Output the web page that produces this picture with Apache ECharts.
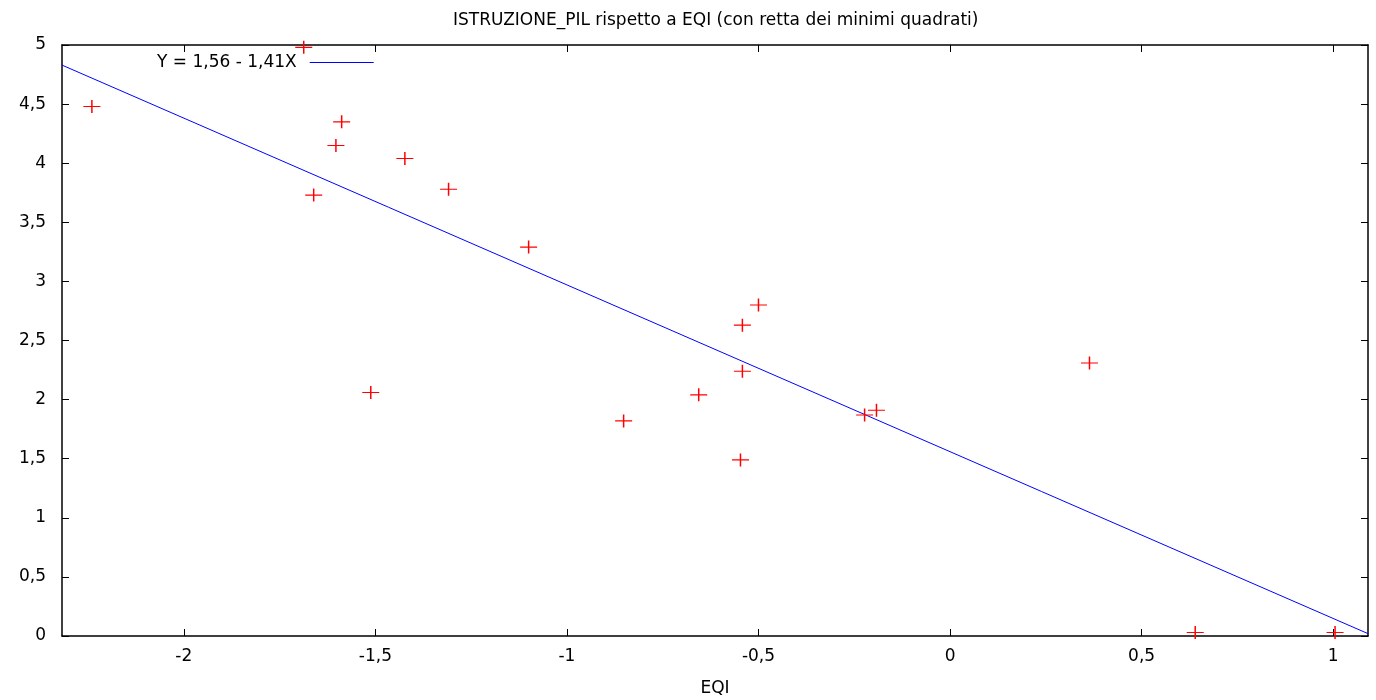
<!DOCTYPE html>
<html>
<head>
<meta charset="utf-8">
<script src="https://cdn.jsdelivr.net/npm/echarts@6/dist/echarts.min.js"></script>
<style>
  html, body { margin: 0; padding: 0; background: #fff; }
  #main { width: 1376px; height: 700px; }
</style>
</head>
<body>
<div id="main"></div>
<script>
// EQI (x) vs ISTRUZIONE_PIL (y)
const eqi = [-2.24, -1.687, -1.588, -1.603, -1.661, -1.423, -1.309, -1.10, -1.512, -0.852,
  -0.656, -0.542, -0.50, -0.542, -0.547, -0.223, -0.192, 0.364, 0.640, 1.005];
const istruzionePil = [4.48, 4.98, 4.35, 4.15, 3.73, 4.04, 3.78, 3.29, 2.06, 1.82,
  2.04, 2.63, 2.80, 2.24, 1.49, 1.87, 1.91, 2.31, 0.03, 0.03];

// least squares line endpoints (at the plot edges)
const fitX = [-2.318, 1.091];
const fitY = [4.83, 0.02];

// tick values
const xTicks = [-2, -1.5, -1, -0.5, 0, 0.5, 1];
const yTicks = [0, 0.5, 1, 1.5, 2, 2.5, 3, 3.5, 4, 4.5, 5];

const xMin = -2.318, xMax = 1.091;
const font = "DejaVu Sans";
const fs = 17;
const comma = v => String(v).replace(".", ",");

const chart = echarts.init(document.getElementById("main"));

const axisLine = { show: true, onZero: false, lineStyle: { color: "#000", width: 1.5 } };
const tick = { inside: true, length: 7, lineStyle: { color: "#000" } };

const baseX = {
  type: "value",
  min: xMin,
  max: xMax,
  splitLine: { show: false },
  axisLine: axisLine,
  axisTick: Object.assign({ customValues: xTicks }, tick),
};
const baseY = {
  type: "value",
  min: 0,
  max: 5,
  splitLine: { show: false },
  axisLine: axisLine,
  axisTick: Object.assign({ customValues: yTicks }, tick),
};

chart.setOption({
  animation: false,
  title: {
    text: "ISTRUZIONE_PIL rispetto a EQI (con retta dei minimi quadrati)",
    left: 448,
    top: 7,
    textStyle: { fontFamily: font, fontSize: fs, fontWeight: "normal", color: "#000" },
  },
  legend: {
    data: ["Y = 1,56 - 1,41X"],
    left: 152,
    top: 49,
    align: "right",
    itemWidth: 64,
    itemHeight: 1,
    icon: "rect",
    itemGap: 0,
    itemStyle: { color: "#0000ff", borderWidth: 0 },
    textStyle: { fontFamily: font, fontSize: fs, color: "#000", padding: [0, 8, 0, 0] },
  },
  grid: { left: 62, right: 8, top: 45, bottom: 64, containLabel: false, outerBoundsMode: "none" },
  xAxis: [
    Object.assign({}, baseX, {
      position: "bottom",
      name: "EQI",
      nameLocation: "middle",
      nameGap: 44,
      nameTextStyle: { fontFamily: font, fontSize: fs, color: "#000" },
      axisLabel: {
        fontFamily: font, fontSize: fs, color: "#000", margin: 12,
        customValues: xTicks,
        formatter: comma,
      },
    }),
    Object.assign({}, baseX, { position: "top", axisLabel: { show: false } }),
  ],
  yAxis: [
    Object.assign({}, baseY, {
      position: "left",
      axisLabel: {
        fontFamily: font, fontSize: fs, color: "#000", margin: 16,
        customValues: yTicks,
        formatter: comma,
      },
    }),
    Object.assign({}, baseY, { position: "right", axisLabel: { show: false } }),
  ],
  series: [
    {
      name: "ISTRUZIONE_PIL",
      type: "scatter",
      data: eqi.map((x, i) => [x, istruzionePil[i]]),
      symbol: "path://M0,6L16,6M8,0L8,12",
      symbolSize: [17, 13],
      itemStyle: { color: "rgba(0,0,0,0)", borderColor: "#ff0000", borderWidth: 1.3, opacity: 1 },
      z: 3,
    },
    {
      name: "Y = 1,56 - 1,41X",
      type: "line",
      data: fitX.map((x, i) => [x, fitY[i]]),
      showSymbol: false,
      symbol: "none",
      lineStyle: { color: "#0000ff", width: 1 },
      itemStyle: { color: "#0000ff" },
      z: 2,
    },
  ],
});
</script>
</body>
</html>
